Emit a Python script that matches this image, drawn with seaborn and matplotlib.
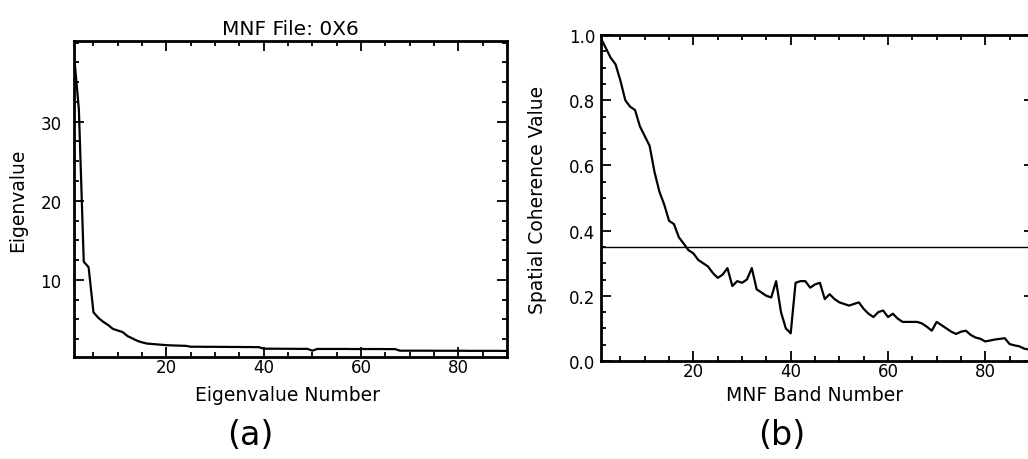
import numpy as np
import pandas as pd
import matplotlib
matplotlib.use('Agg')
import matplotlib.pyplot as plt
import seaborn as sns
from matplotlib.ticker import MultipleLocator

# valores (banda 1..90)
bandas = list(range(1, 91))

autovalores = [
    38.5, 31.5, 12.3, 11.6, 5.9, 5.2, 4.7, 4.3, 3.8, 3.6,
    3.4, 2.9, 2.6, 2.3, 2.1, 1.95, 1.9, 1.85, 1.8, 1.75,
    1.72, 1.7, 1.68, 1.66, 1.55, 1.55, 1.55, 1.54, 1.54, 1.54,
    1.53, 1.53, 1.52, 1.52, 1.52, 1.51, 1.51, 1.5, 1.5, 1.3,
    1.3, 1.3, 1.3, 1.29, 1.29, 1.29, 1.28, 1.28, 1.28, 1.05,
    1.27, 1.27, 1.27, 1.27, 1.27, 1.27, 1.27, 1.26, 1.26, 1.26,
    1.26, 1.26, 1.26, 1.26, 1.25, 1.25, 1.25, 1.05, 1.05, 1.05,
    1.05, 1.05, 1.05, 1.05, 1.04, 1.04, 1.04, 1.04, 1.04, 1.04,
    1.04, 1.03, 1.03, 1.03, 1.03, 1.03, 1.03, 1.03, 1.02, 1.02,
]

coerencia = [
    0.99, 0.96, 0.93, 0.91, 0.86, 0.80, 0.78, 0.77, 0.72, 0.69,
    0.66, 0.58, 0.52, 0.48, 0.43, 0.42, 0.38, 0.36, 0.34, 0.33,
    0.31, 0.30, 0.29, 0.27, 0.255, 0.265, 0.285, 0.23, 0.245, 0.24,
    0.25, 0.285, 0.22, 0.21, 0.20, 0.195, 0.245, 0.15, 0.10, 0.085,
    0.24, 0.245, 0.245, 0.225, 0.235, 0.24, 0.19, 0.205, 0.19, 0.18,
    0.175, 0.17, 0.175, 0.18, 0.16, 0.145, 0.135, 0.15, 0.155, 0.135,
    0.145, 0.13, 0.12, 0.12, 0.12, 0.12, 0.115, 0.105, 0.093, 0.12,
    0.11, 0.10, 0.09, 0.083, 0.09, 0.093, 0.08, 0.072, 0.068, 0.06,
    0.063, 0.066, 0.068, 0.07, 0.052, 0.048, 0.045, 0.038, 0.035, 0.03,
]

limiar = 0.35

dados = pd.DataFrame({'banda': bandas, 'autovalor': autovalores, 'coerencia': coerencia})

sns.set_style('ticks')
plt.rcParams['font.family'] = ['DejaVu Sans']
plt.rcParams['xtick.direction'] = 'in'
plt.rcParams['ytick.direction'] = 'in'
for k in ['text.color', 'axes.labelcolor', 'xtick.color', 'ytick.color']:
    plt.rcParams[k] = 'black'

fig = plt.figure(figsize=(10.28, 4.6), dpi=100)
ax1 = fig.add_axes([0.072, 0.2217, 0.4212, 0.687])
ax2 = fig.add_axes([0.5846, 0.213, 0.4212, 0.7087])

# painel (a) - autovalores
sns.lineplot(data=dados, x='banda', y='autovalor', ax=ax1, color='black', lw=1.6)
ax1.set_xlim(1, 90)
ax1.set_ylim(0.25, 40.2)
ax1.set_xticks([20, 40, 60, 80])
ax1.set_yticks([10, 20, 30])
ax1.xaxis.set_minor_locator(MultipleLocator(5))
ax1.yaxis.set_minor_locator(MultipleLocator(2.5))
ax1.set_title('MNF File: 0X6', fontsize=14.5, pad=5)
ax1.set_xlabel('Eigenvalue Number', fontsize=13.5)
ax1.set_ylabel('Eigenvalue', fontsize=13.5)
ax1.xaxis.set_label_coords(0.494, -0.09)
ax1.yaxis.set_label_coords(-0.108, 0.5)

# painel (b) - coerencia espacial
sns.lineplot(data=dados, x='banda', y='coerencia', ax=ax2, color='black', lw=1.6)
ax2.axhline(limiar, color='black', lw=1.0)
ax2.set_xlim(1, 90)
ax2.set_ylim(0, 1.0)
ax2.set_xticks([20, 40, 60, 80])
ax2.set_yticks([0.0, 0.2, 0.4, 0.6, 0.8, 1.0])
ax2.set_yticklabels(['0.0', '0.2', '0.4', '0.6', '0.8', '1.0'])
ax2.xaxis.set_minor_locator(MultipleLocator(5))
ax2.yaxis.set_minor_locator(MultipleLocator(0.05))
ax2.set_xlabel('MNF Band Number', fontsize=13.5)
ax2.set_ylabel('Spatial Coherence Value', fontsize=13.5)
ax2.xaxis.set_label_coords(0.494, -0.075)
ax2.yaxis.set_label_coords(-0.125, 0.497)

for ax in (ax1, ax2):
    ax.tick_params(which='both', top=True, right=True, labelsize=12, width=1.3)
    ax.tick_params(which='major', length=7, pad=4)
    ax.tick_params(which='minor', length=3.5)
    ax.tick_params(axis='x', pad=1)
    for s in ax.spines.values():
        s.set_linewidth(2)
        s.set_color('black')
ax1.tick_params(axis='y', pad=9)

fig.text(250 / 1028, 1 - 436 / 460, '(a)', fontsize=24, ha='center', va='center')
fig.text(782 / 1028, 1 - 436 / 460, '(b)', fontsize=24, ha='center', va='center')

fig.savefig('out.png', dpi=100, facecolor='white')
